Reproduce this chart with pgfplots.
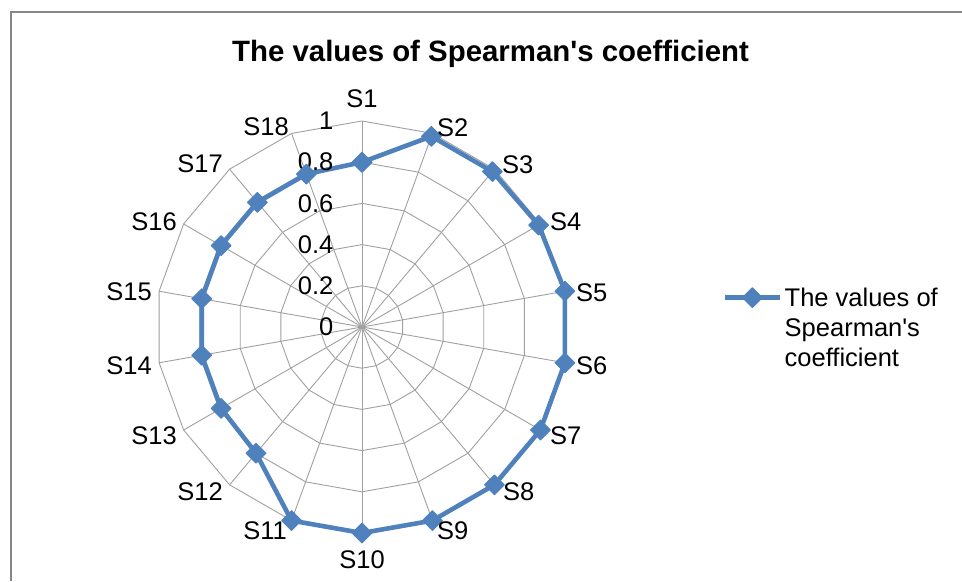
\documentclass[border=0pt]{standalone}
\usepackage{pgfplots}
\usepackage{pgfplotstable}
\pgfplotsset{compat=1.18}
\usepackage{fontspec}
\setmainfont{Liberation Sans}
\definecolor{serblue}{HTML}{4F81BD}
\definecolor{gridgray}{HTML}{A0A0A0}
\definecolor{framegray}{HTML}{868686}
\newcommand\lbl{\fontsize{25.5}{30}\selectfont}
\pgfplotstableread{
angle r
90 0.80
70 0.985
50 0.985
30 0.99
10 1.00
-10 1.00
-30 1.00
-50 1.00
-70 1.00
-90 1.00
-110 1.00
-130 0.80
-150 0.79
-170 0.79
-190 0.79
-210 0.79
-230 0.79
-250 0.79
-270 0.80
}\spearman
\begin{document}
\begin{tikzpicture}
\begin{axis}[
  scale only axis, width=962pt, height=581pt,
  xmin=-1.75728, xmax=2.91262, ymin=-1.23301, ymax=1.58738,
  hide axis, clip=false,
  legend style={at={(axis cs:1.752,0.146)}, anchor=west, draw=none, fill=none,
    font=\lbl, inner sep=0pt, cells={anchor=base west}},
  legend image code/.code={\draw[#1, mark repeat=2, mark phase=2] plot coordinates {(0pt,9pt) (27pt,9pt) (55pt,9pt)};},
]
\draw[framegray, line width=2.5pt] (axis cs:-1.704,-1.23301) -- (axis cs:-1.704,1.529) -- (axis cs:2.91262,1.529);
\pgfplotsinvokeforeach{0.2,0.4,0.6,0.8,1.0}{
  \addplot[gridgray, line width=0.9pt, data cs=polar, domain=90:-270, samples=19, forget plot] (x, #1);
}
\pgfplotsinvokeforeach{90,70,50,30,10,-10,-30,-50,-70,-90,-110,-130,-150,-170,-190,-210,-230,-250}{
  \addplot[gridgray, line width=0.9pt, data cs=polar, forget plot] coordinates {(#1,0) (#1,1)};
}
\addplot[serblue, line width=4.6pt, line join=round, mark=square*, mark size=7pt,
  mark options={rotate=45, solid, line width=1pt}, data cs=polar] table[x=angle, y=r]{\spearman};
\addlegendentry{\begin{tabular}[t]{@{}l@{}}The values of\\Spearman\textquotesingle s\\coefficient\end{tabular}}
\node[font=\fontsize{29.4}{33}\selectfont\bfseries, anchor=base, inner sep=0pt] at (axis cs:0.624,1.291) {The values of Spearman\textquotesingle s coefficient};
\node[font=\lbl, anchor=east, inner sep=0pt] at (axis cs:-0.138,0) {0};
\node[font=\lbl, anchor=east, inner sep=0pt] at (axis cs:-0.138,0.2) {0.2};
\node[font=\lbl, anchor=east, inner sep=0pt] at (axis cs:-0.138,0.4) {0.4};
\node[font=\lbl, anchor=east, inner sep=0pt] at (axis cs:-0.138,0.6) {0.6};
\node[font=\lbl, anchor=east, inner sep=0pt] at (axis cs:-0.138,0.8) {0.8};
\node[font=\lbl, anchor=east, inner sep=0pt] at (axis cs:-0.138,1) {1};
\coordinate (C) at (axis cs:0,0);
\end{axis}
\foreach \s/\anc/\dx/\dy in {S1/south/0/219, S2/west/75/199, S3/west/140/162, S4/west/188/105,
  S5/west/214/34, S6/west/214/-39, S7/west/188/-109, S8/west/141/-165, S9/west/75/-204,
  S10/north/0/-223, S11/east/-75/-204, S12/east/-139/-165, S13/east/-185/-109, S14/east/-210/-39,
  S15/east/-210/35, S16/east/-185/105, S17/east/-139/163, S18/east/-73/200}{
  \node[font=\lbl, anchor=\anc, inner sep=0pt] at ([shift={(\dx pt,\dy pt)}]C) {\s};
}
\pgfresetboundingbox
\useasboundingbox (current axis.south west) rectangle (current axis.north east);
\end{tikzpicture}
\end{document}
